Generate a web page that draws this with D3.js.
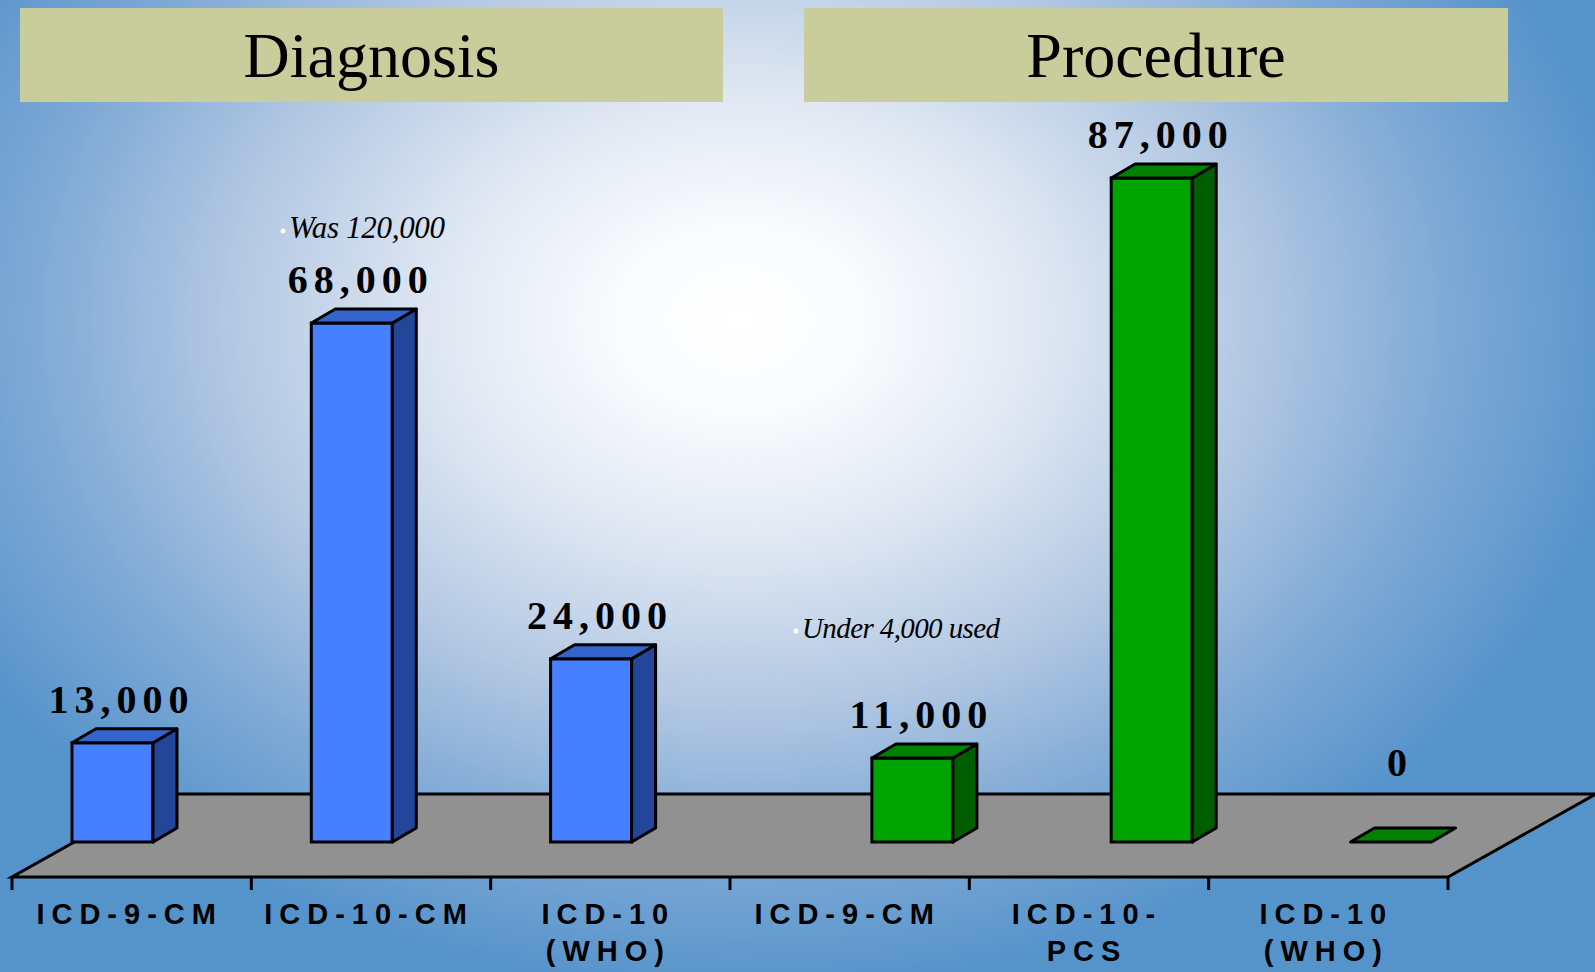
<!DOCTYPE html>
<html>
<head>
<meta charset="utf-8">
<script src="https://cdn.jsdelivr.net/npm/d3@7"></script>
<style>
  html, body { margin: 0; padding: 0; overflow: hidden; }
  svg { display: block; }
</style>
</head>
<body>
<div id="chart"></div>
<script>
// Code counts: diagnosis vs procedure code sets
var categories = ["ICD-9-CM", "ICD-10-CM", "ICD-10 (WHO)", "ICD-9-CM", "ICD-10-PCS", "ICD-10 (WHO)"];
var categoryLines = [["ICD-9-CM"], ["ICD-10-CM"], ["ICD-10", "(WHO)"], ["ICD-9-CM"], ["ICD-10-", "PCS"], ["ICD-10", "(WHO)"]];
var groups = ["Diagnosis", "Procedure"];
var diagnosisCodes = [13000, 68000, 24000, null, null, null];
var procedureCodes = [null, null, null, 11000, 87000, 0];
var notes = [{cat: 1, text: "Was 120,000"}, {cat: 3, text: "Under 4,000 used"}];

var W = 1595, H = 972;
var cfg = {
  floorFront: 877, floorBack: 794, floorX0: 12, floorX1: 1448, floorDX: 148,
  base: 842, depthX: 24, depthY: -14, barW: 81,
  colors: {
    Diagnosis: {front: "#4680ff", side: "#23459a", top: "#3465cc"},
    Procedure: {front: "#00a400", side: "#005e00", top: "#008200"}
  }
};

var svg = d3.select("#chart").append("svg").attr("width", W).attr("height", H);

// background: light centre fading to blue
var defs = svg.append("defs");
var grad = defs.append("radialGradient").attr("id", "bg")
  .attr("gradientUnits", "userSpaceOnUse")
  .attr("cx", 740).attr("cy", 320).attr("r", 900)
  .attr("gradientTransform", "translate(740,320) scale(1,0.75) translate(-740,-320)");
[[0, "#ffffff"], [0.14, "#f9fbfd"], [0.32, "#e2e9f4"], [0.56, "#b4c9e3"], [0.78, "#80aad6"], [1, "#5593cb"]]
  .forEach(function(s){ grad.append("stop").attr("offset", s[0]).attr("stop-color", s[1]); });
svg.append("rect").attr("width", W).attr("height", H).attr("fill", "url(#bg)");

// header boxes
var headers = [{text: "Diagnosis", x0: 20, x1: 723}, {text: "Procedure", x0: 804, x1: 1508}];
headers.forEach(function(h){
  svg.append("rect").attr("x", h.x0).attr("y", 8).attr("width", h.x1 - h.x0).attr("height", 94)
    .attr("fill", "#c9cd9c");
  svg.append("text").attr("x", (h.x0 + h.x1) / 2).attr("y", 77)
    .attr("text-anchor", "middle")
    .style("font-family", "'Liberation Serif', 'Times New Roman', serif")
    .style("font-size", "64px").style("fill", "#000")
    .text(h.text);
});

// scales
var y = d3.scaleLinear().domain([0, 87000]).range([cfg.base, 178]);
var xFront = d3.scaleBand().domain(d3.range(categories.length)).range([cfg.floorX0, cfg.floorX1]).padding(0);
var xBar = d3.scaleBand().domain(d3.range(categories.length)).range([72, 72 + 239.3 * 6]).padding(0);
var xGroup = d3.scaleBand().domain(groups).range([0, 164]).padding(0);

// floor
var f = cfg;
svg.append("polygon")
  .attr("points", [[f.floorX0, f.floorFront], [f.floorX1, f.floorFront],
    [f.floorX1 + f.floorDX, f.floorBack], [f.floorX0 + f.floorDX, f.floorBack]].join(" "))
  .attr("fill", "#919191").attr("stroke", "#000").attr("stroke-width", 3).attr("stroke-linejoin", "miter");

// ticks below the floor
svg.append("g").selectAll("line").data(d3.range(categories.length + 1)).enter().append("line")
  .attr("x1", function(i){ return i < categories.length ? xFront(i) : f.floorX1; })
  .attr("x2", function(i){ return i < categories.length ? xFront(i) : f.floorX1; })
  .attr("y1", f.floorFront).attr("y2", f.floorFront + 13)
  .attr("stroke", "#000").attr("stroke-width", 3);

// bars
var bars = [];
diagnosisCodes.forEach(function(v, i){ if (v !== null) bars.push({cat: i, group: "Diagnosis", value: v}); });
procedureCodes.forEach(function(v, i){ if (v !== null) bars.push({cat: i, group: "Procedure", value: v}); });

var dx = cfg.depthX, dy = cfg.depthY;
var bar = svg.append("g").selectAll("g").data(bars).enter().append("g");
bar.each(function(d){
  var g = d3.select(this);
  var x0 = xBar(d.cat) + xGroup(d.group), x1 = x0 + cfg.barW;
  var top = y(d.value), bot = cfg.base;
  var c = cfg.colors[d.group];
  if (d.value > 0) {
    g.append("rect").attr("x", x0).attr("y", top).attr("width", x1 - x0).attr("height", bot - top)
      .attr("fill", c.front).attr("stroke", "#000").attr("stroke-width", 3);
    g.append("polygon")
      .attr("points", [[x1, top], [x1 + dx, top + dy], [x1 + dx, bot + dy], [x1, bot]].join(" "))
      .attr("fill", c.side).attr("stroke", "#000").attr("stroke-width", 3).attr("stroke-linejoin", "round");
  }
  g.append("polygon")
    .attr("points", [[x0, top], [x1, top], [x1 + dx, top + dy], [x0 + dx, top + dy]].join(" "))
    .attr("fill", c.top).attr("stroke", "#000").attr("stroke-width", 3).attr("stroke-linejoin", "round");

  // value label
  var ly = Math.min(top - 30, f.floorBack - 18);
  g.append("text")
    .attr("x", x0 + (cfg.barW + dx) / 2 - 3).attr("y", ly)
    .attr("text-anchor", "middle")
    .style("font-family", "'Liberation Serif', 'Times New Roman', serif")
    .style("font-weight", "bold").style("font-size", "40px").style("letter-spacing", "6px")
    .style("fill", "#000")
    .text(d3.format(",")(d.value));
});

// category labels
var catLabel = svg.append("g").selectAll("text").data(categoryLines).enter().append("text")
  .attr("x", function(d, i){ return xFront(i) + xFront.bandwidth() / 2 - 2; })
  .attr("y", 924)
  .attr("text-anchor", "middle")
  .style("font-family", "'Liberation Sans', Arial, sans-serif")
  .style("font-weight", "bold").style("font-size", "29px").style("letter-spacing", "7px")
  .style("fill", "#000");
catLabel.each(function(lines){
  var t = d3.select(this);
  lines.forEach(function(l, k){
    t.append("tspan").attr("x", t.attr("x")).attr("dy", k === 0 ? 0 : 37).text(l);
  });
});

// annotations
var notePos = [[289, 238], [802, 638]];
notes.forEach(function(n, k){
  var p = notePos[k];
  svg.append("circle").attr("cx", p[0] - 6).attr("cy", p[1] - 7).attr("r", 2.5).attr("fill", "#fff");
  svg.append("text").attr("x", p[0]).attr("y", p[1])
    .style("font-family", "'Liberation Serif', 'Times New Roman', serif")
    .style("font-style", "italic").style("font-size", k === 0 ? "31px" : "29px")
    .style("letter-spacing", k === 0 ? "-0.3px" : "-0.6px")
    .style("fill", "#000")
    .text(n.text);
});
</script>
</body>
</html>
